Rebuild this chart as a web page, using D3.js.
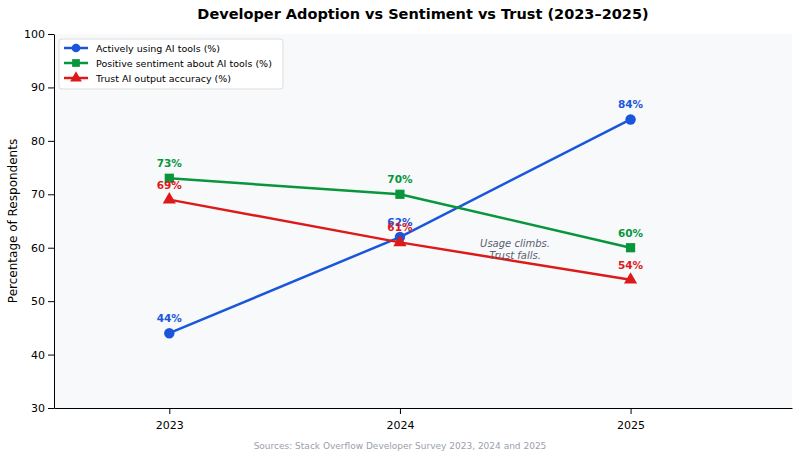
<!DOCTYPE html>
<html><head><meta charset="utf-8">
<script src="https://cdn.jsdelivr.net/npm/d3@7"></script>
<style>body{margin:0;background:#fff}text{font-family:"DejaVu Sans",sans-serif}</style>
</head><body><svg id="c" width="800" height="459"></svg>
<script>
const years=[2023,2024,2025];
const usingAI=[44,62,84];
const positive=[73,70,60];
const trust=[69,61,54];
const yTicks=[30,40,50,60,70,80,90,100];
const series=[
 {name:"Actively using AI tools (%)",vals:usingAI,color:"#1a56db",shape:"circle"},
 {name:"Positive sentiment about AI tools (%)",vals:positive,color:"#07963b",shape:"square"},
 {name:"Trust AI output accuracy (%)",vals:trust,color:"#dc1a1a",shape:"triangle"}];
const svg=d3.select("#c");
const L=54,R=792,T=34,B=408;
const x=d3.scaleLinear().domain([2022.5,2025.7]).range([L,R]);
const y=d3.scaleLinear().domain([30,100]).range([B,T]);
svg.append("rect").attr("x",L).attr("y",T).attr("width",R-L).attr("height",B-T).attr("fill","#f8f9fb");
svg.append("g").attr("transform",`translate(0,${B})`).call(d3.axisBottom(x).tickValues(years).tickFormat(d3.format("d")).tickSizeOuter(0))
 .call(g=>g.selectAll("text").attr("font-size",11).attr("fill","#000").attr("dy","1.1em"));
svg.append("g").attr("transform",`translate(${L},0)`).call(d3.axisLeft(y).tickValues(yTicks).tickSizeOuter(0))
 .call(g=>g.selectAll("text").attr("font-size",11).attr("fill","#000"));
svg.append("text").attr("transform",`translate(17,${(T+B)/2}) rotate(-90)`).attr("text-anchor","middle").attr("font-size",12).text("Percentage of Respondents");
svg.append("text").attr("x",423).attr("y",19).attr("text-anchor","middle").attr("font-size",14.5).attr("font-weight","bold").text("Developer Adoption vs Sentiment vs Trust (2023–2025)");
const sym={circle:d3.symbolCircle,square:d3.symbolSquare,triangle:d3.symbolTriangle};
const line=d3.line().x((d,i)=>x(years[i])).y(d=>y(d));
series.forEach(s=>{
 svg.append("path").attr("d",line(s.vals)).attr("fill","none").attr("stroke",s.color).attr("stroke-width",2.5);
 s.vals.forEach((v,i)=>{
  svg.append("path").attr("d",d3.symbol(sym[s.shape],s.shape==="triangle"?75:85)()).attr("transform",`translate(${x(years[i])},${y(v)})`).attr("fill",s.color);
  svg.append("text").attr("x",x(years[i])).attr("y",y(v)-11).attr("text-anchor","middle").attr("font-size",10.5).attr("font-weight","bold").attr("fill",s.color).text(v+"%");
 });
});
const ann=svg.append("text").attr("text-anchor","middle").attr("font-size",10).attr("font-style","italic").attr("fill","#5a6070");
ann.append("tspan").attr("x",515).attr("y",247).text("Usage climbs.");
ann.append("tspan").attr("x",515).attr("y",259).text("Trust falls.");
svg.append("text").attr("x",400).attr("y",449).attr("text-anchor","middle").attr("font-size",9).attr("fill","#9aa0ac").text("Sources: Stack Overflow Developer Survey 2023, 2024 and 2025");
const lg=svg.append("g").attr("transform",`translate(59,39)`);
lg.append("rect").attr("width",224).attr("height",50).attr("rx",3).attr("fill","#fff").attr("stroke","#ddd");
series.forEach((s,i)=>{
 const yy=9+i*15;
 lg.append("line").attr("x1",5).attr("x2",29).attr("y1",yy).attr("y2",yy).attr("stroke",s.color).attr("stroke-width",2.5);
 lg.append("path").attr("d",d3.symbol(sym[s.shape],60)()).attr("transform",`translate(17,${yy})`).attr("fill",s.color);
 lg.append("text").attr("x",37).attr("y",yy+3.5).attr("font-size",9.5).text(s.name);
});
</script></body></html>
